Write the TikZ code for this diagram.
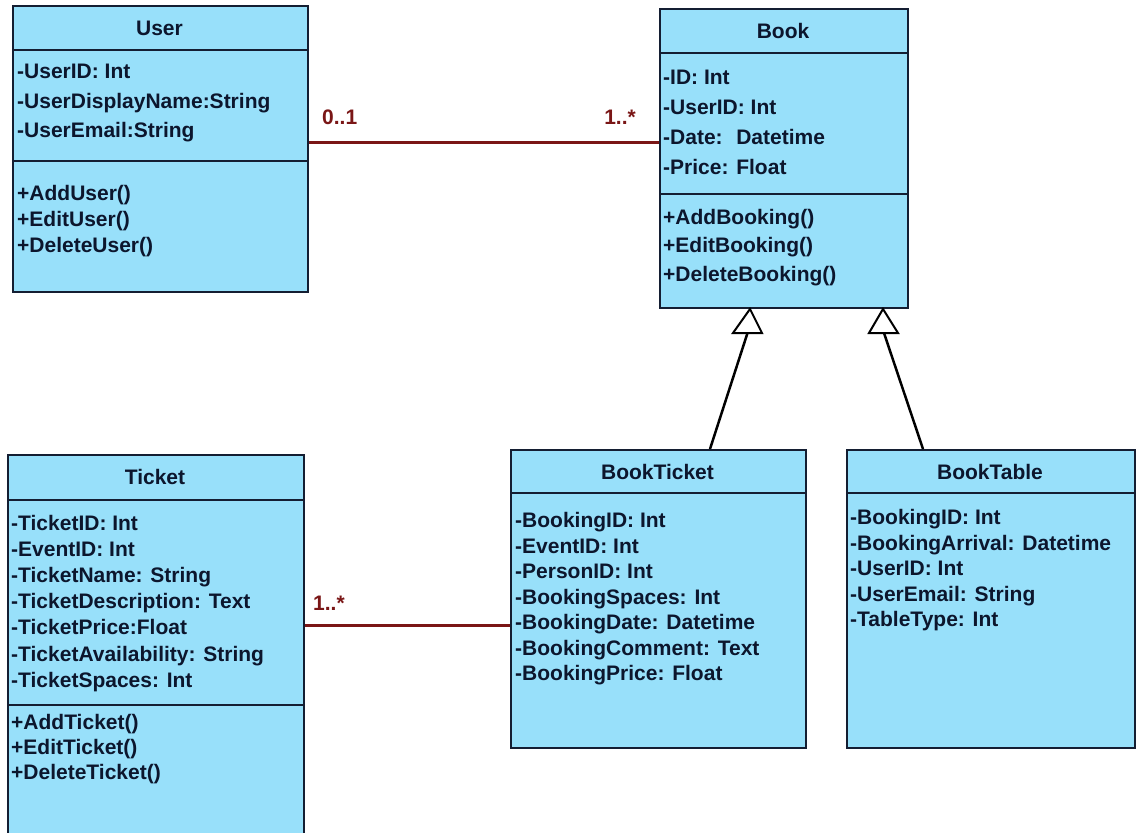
\documentclass[tikz,border=0pt]{standalone}
\usepackage{fontspec}
\setmainfont{Liberation Sans}
\definecolor{boxfill}{RGB}{152,224,250}
\definecolor{boxline}{RGB}{20,30,50}
\definecolor{txtcol}{RGB}{12,22,45}
\definecolor{assocred}{RGB}{122,22,22}
\begin{document}
\begin{tikzpicture}[x=1pt,y=-1pt,
  classbox/.style={draw=boxline, fill=boxfill, line width=2pt, inner sep=0pt, anchor=north west},
  divider/.style={draw=boxline, line width=2pt},
  ctitle/.style={font=\fontsize{21}{25}\selectfont\bfseries, text=txtcol, anchor=base, inner sep=0pt},
  member/.style={font=\fontsize{21}{25}\selectfont\bfseries, text=txtcol, anchor=base west, inner sep=0pt},
  assocline/.style={draw=assocred, line width=3pt},
  mult/.style={font=\fontsize{21}{25}\selectfont\bfseries, text=assocred, inner sep=0pt},
  genline/.style={draw=black, line width=2.5pt},
  gentri/.style={draw=black, fill=white, line width=2pt, line join=miter}]
\useasboundingbox (0,0) rectangle (1136,833);
\fill[white] (0,0) rectangle (1136,833);

% ---------- User ----------
\node[classbox, minimum width=295pt, minimum height=286pt] (user) at (12,5) {};
\draw[divider] (user.west |- 0,50) -- (user.east |- 0,50);
\draw[divider] (user.west |- 0,161) -- (user.east |- 0,161);
\node[ctitle] (user-t) at (159.5,35.5) {User};
\foreach \s [count=\i] in {-UserID: Int, -UserDisplayName:String, -UserEmail:String}
  \node[member] (user-a\i) at (17,{78.5+(\i-1)*29.5}) {\s};
\foreach \s [count=\i] in {+AddUser(), +EditUser(), +DeleteUser()}
  \node[member] (user-o\i) at (17,{200.5+(\i-1)*26}) {\s};

% ---------- Book ----------
\node[classbox, minimum width=248pt, minimum height=299pt] (book) at (659,8) {};
\draw[divider] (book.west |- 0,53) -- (book.east |- 0,53);
\draw[divider] (book.west |- 0,194) -- (book.east |- 0,194);
\node[ctitle] (book-t) at (783,38.5) {Book};
\foreach \s [count=\i] in {-ID: Int, -UserID: Int, -Date:~ Datetime, -Price: Float}
  \node[member] (book-a\i) at (663,{84.5+(\i-1)*30}) {\s};
\foreach \s [count=\i] in {+AddBooking(), +EditBooking(), +DeleteBooking()}
  \node[member] (book-o\i) at (663,{224+(\i-1)*28.5}) {\s};

% ---------- Ticket ----------
\node[classbox, minimum width=296pt, minimum height=420pt] (ticket) at (7,454) {};
\draw[divider] (ticket.west |- 0,500) -- (ticket.east |- 0,500);
\draw[divider] (ticket.west |- 0,705) -- (ticket.east |- 0,705);
\node[ctitle] (ticket-t) at (155,484.5) {Ticket};
\foreach \s [count=\i] in {-TicketID: Int, -EventID: Int, -TicketName: String, -TicketDescription: Text, -TicketPrice:Float, -TicketAvailability: String, -TicketSpaces: Int}
  \node[member] (ticket-a\i) at (11,{530+(\i-1)*26.2}) {\s};
\foreach \s [count=\i] in {+AddTicket(), +EditTicket(), +DeleteTicket()}
  \node[member] (ticket-o\i) at (11,{729+(\i-1)*25}) {\s};

% ---------- BookTicket ----------
\node[classbox, minimum width=295pt, minimum height=298pt] (bticket) at (510,449) {};
\draw[divider] (bticket.west |- 0,493) -- (bticket.east |- 0,493);
\node[ctitle] (bticket-t) at (657.5,479.5) {BookTicket};
\foreach \s [count=\i] in {-BookingID: Int, -EventID: Int, -PersonID: Int, -BookingSpaces: Int, -BookingDate: Datetime, -BookingComment: Text, -BookingPrice: Float}
  \node[member] (bticket-a\i) at (515,{527.5+(\i-1)*25.5}) {\s};

% ---------- BookTable ----------
\node[classbox, minimum width=288pt, minimum height=298pt] (btable) at (846,449) {};
\draw[divider] (btable.west |- 0,493) -- (btable.east |- 0,493);
\node[ctitle] (btable-t) at (990,479.5) {BookTable};
\foreach \s [count=\i] in {-BookingID: Int, -BookingArrival: Datetime, -UserID: Int, -UserEmail: String, -TableType: Int}
  \node[member] (btable-a\i) at (850,{524.5+(\i-1)*25.5}) {\s};

% ---------- Associations ----------
\draw[assocline] (user.east |- 0,142) -- (book.west |- 0,142);
\node[mult, anchor=west] (m-user) at (322,117) {0..1};
\node[mult, anchor=east] (m-book) at (636,117) {1..*};
\draw[assocline] (ticket.east |- 0,625) -- (bticket.west |- 0,625);
\node[mult, anchor=west] (m-ticket) at (313,603) {1..*};

% ---------- Generalizations ----------
\coordinate (g1) at (747.5,333);
\coordinate (g2) at (884,333);
\draw[genline] (bticket.north -| 710,0) -- (g1);
\draw[genline] (btable.north -| 923,0) -- (g2);
\draw[gentri] (book.south -| 750,0) -- (762,333) -- (733,333) -- cycle;
\draw[gentri] (book.south -| 883,0) -- (898,333) -- (869,333) -- cycle;
\end{tikzpicture}
\end{document}
